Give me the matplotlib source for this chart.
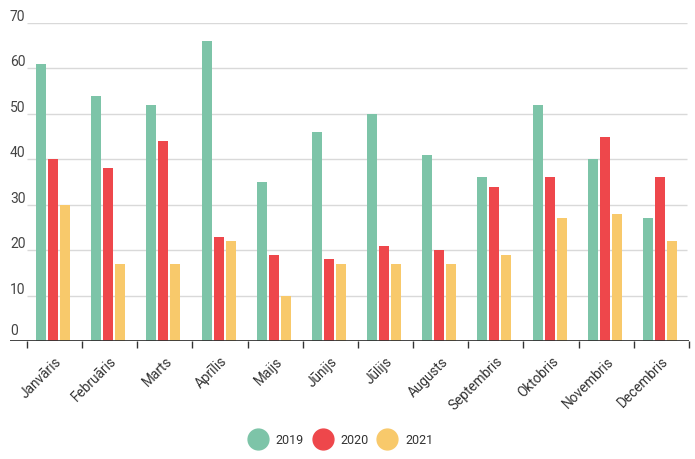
import numpy as np
import matplotlib.pyplot as plt
from matplotlib.lines import Line2D

plt.rcParams['font.family'] = ['Roboto', 'DejaVu Sans']

menesi = ['Janvāris', 'Februāris', 'Marts', 'Aprīlis', 'Maijs', 'Jūnijs',
          'Jūlijs', 'Augusts', 'Septembris', 'Oktobris', 'Novembris', 'Decembris']
gadi = ['2019', '2020', '2021']
v2019 = [61, 54, 52, 66, 35, 46, 50, 41, 36, 52, 40, 27]
v2020 = [40, 38, 44, 23, 19, 18, 21, 20, 34, 36, 45, 36]
v2021 = [30, 17, 17, 22, 10, 17, 17, 17, 19, 27, 28, 22]
krasas = ['#7dc4a8', '#ee474b', '#f8c96b']
y_ticks = [0, 10, 20, 30, 40, 50, 60, 70]

fig = plt.figure(figsize=(6.95, 4.6), dpi=100)
ax = fig.add_axes([10/695, 118/460, 679/695, 318/460])

x = np.arange(len(menesi))
solis = 12/55.17
platums = 10/55.17
nobide = -1.5/55.17
for k, (vals, c) in enumerate(zip([v2019, v2020, v2021], krasas)):
    ax.bar(x + nobide + (k - 1)*solis, vals, width=platums, color=c, zorder=3)

x_min = -0.5 - 17/55.17
ax.set_xlim(x_min, 11.5)
ax.set_ylim(0, 70)

# rezgis
for yv in y_ticks[1:]:
    ax.hlines(yv, -0.5, 11.46, color='#d9d9d9', lw=1, zorder=1)
    ax.text(x_min, yv, str(yv), ha='left', va='bottom', fontsize=10,
            color='#444444', transform=ax.transData)
ax.text(x_min, 0.9, '0', ha='left', va='bottom', fontsize=10, color='#444444')
ax.axhline(0, color='#333333', lw=2, zorder=4)

for s in ax.spines.values():
    s.set_visible(False)
ax.set_yticks([])
ax.set_xticks(x)
ax.set_xticklabels(menesi, rotation=45, ha='right', va='top',
                   rotation_mode='anchor', fontsize=9.8, color='#333333')
ax.tick_params(axis='x', which='major', length=0, pad=9)
ax.set_xticks(np.arange(-0.5, 12), minor=True)
ax.tick_params(axis='x', which='minor', length=5, width=1, color='#333333')

handles = [Line2D([], [], marker='o', ls='', ms=15, color=c) for c in krasas]
fig.legend(handles, gadi, loc='center', bbox_to_anchor=(342/695, 1 - 441/460),
           ncol=3, frameon=False, fontsize=9, handletextpad=0.8,
           columnspacing=0.9, handlelength=1.2, labelcolor='#333333')

fig.savefig('out.png', dpi=100)
